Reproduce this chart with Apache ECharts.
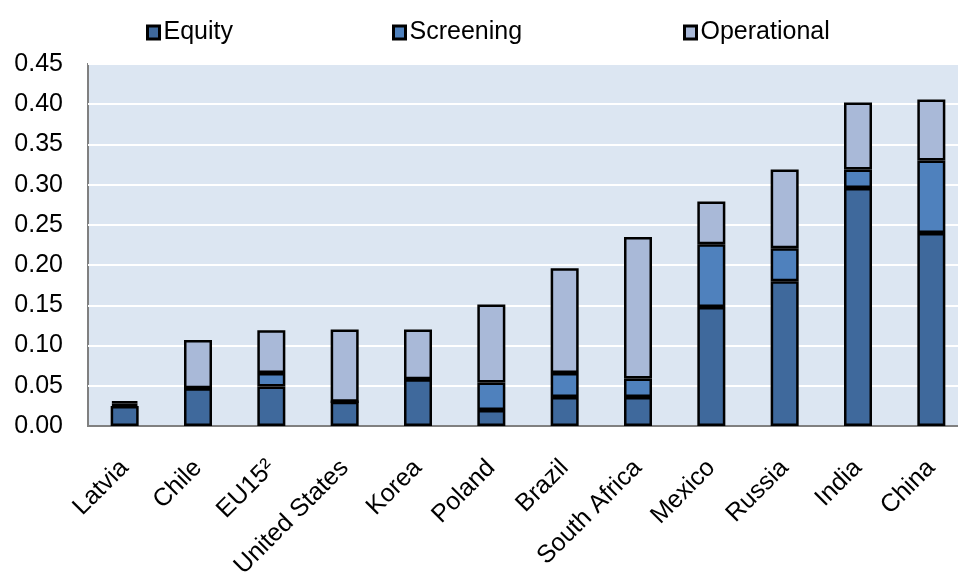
<!DOCTYPE html>
<html>
<head>
    <meta charset="utf-8">
    <title>Equity, screening, operational</title>
    <script src="https://cdn.jsdelivr.net/npm/echarts@6/dist/echarts.min.js"></script>
    <style>
        html, body { margin: 0; padding: 0; background: #fff; }
        #chart1 { width: 958px; height: 574px; }
    </style>
</head>
<body>
<div id="chart1"></div>
<script>
    // 数据
    var countries = ['Latvia', 'Chile', 'EU15\u00b2', 'United States', 'Korea', 'Poland',
        'Brazil', 'South Africa', 'Mexico', 'Russia', 'India', 'China'];
    var equity = [0.025, 0.047, 0.049, 0.030, 0.058, 0.020, 0.036, 0.036, 0.148, 0.180, 0.296, 0.240];
    var screening = [0.003, 0, 0.017, 0, 0, 0.034, 0.030, 0.023, 0.078, 0.041, 0.023, 0.090];
    var operational = [0.003, 0.060, 0.053, 0.090, 0.062, 0.097, 0.130, 0.176, 0.053, 0.098, 0.083, 0.076];

    var font = 'Liberation Sans, Arial, sans-serif';
    var colors = {Equity: '#3F699C', Screening: '#4F81BD', Operational: '#A9B9D8'};

    function legendAt(name, left) {
        return {
            data: [name],
            icon: 'rect',
            left: left,
            top: 20,
            itemWidth: 12,
            itemHeight: 13,
            itemGap: 0,
            padding: 0,
            selectedMode: false,
            textStyle: {fontSize: 25, fontFamily: font, color: '#000', padding: [0, 0, 0, -1]},
            itemStyle: {borderColor: '#000', borderWidth: 3}
        };
    }

    function barSeries(name, data) {
        return {
            name: name,
            type: 'bar',
            stack: 'total',
            barWidth: 28,
            data: data,
            itemStyle: {color: colors[name], borderColor: '#000', borderWidth: 2.5}
        };
    }

    var myChart1 = echarts.init(document.getElementById('chart1'));
    myChart1.setOption({
        animation: false,
        legend: [legendAt('Equity', 146), legendAt('Screening', 392), legendAt('Operational', 683)],
        grid: {
            left: 88, top: 64, width: 880, height: 362,
            outerBoundsMode: 'none',
            containLabel: false,
            show: true,
            backgroundColor: '#DCE6F2',
            borderColor: '#808080',
            borderWidth: 2
        },
        xAxis: {
            type: 'category',
            data: countries,
            axisLine: {lineStyle: {color: '#808080', width: 2}},
            axisTick: {inside: true, length: 5, lineStyle: {color: '#808080', width: 2}},
            axisLabel: {rotate: 45, fontSize: 25, fontFamily: font, color: '#000', margin: 38, interval: 0}
        },
        yAxis: {
            type: 'value',
            min: 0,
            max: 0.45,
            interval: 0.05,
            axisLine: {show: false},
            axisTick: {show: false},
            splitLine: {lineStyle: {color: '#fff', width: 2}},
            axisLabel: {
                fontSize: 25, fontFamily: font, color: '#000', margin: 25,
                formatter: function (v) { return v.toFixed(2); }
            }
        },
        series: [
            barSeries('Equity', equity),
            barSeries('Screening', screening),
            barSeries('Operational', operational)
        ]
    });
</script>
</body>
</html>
